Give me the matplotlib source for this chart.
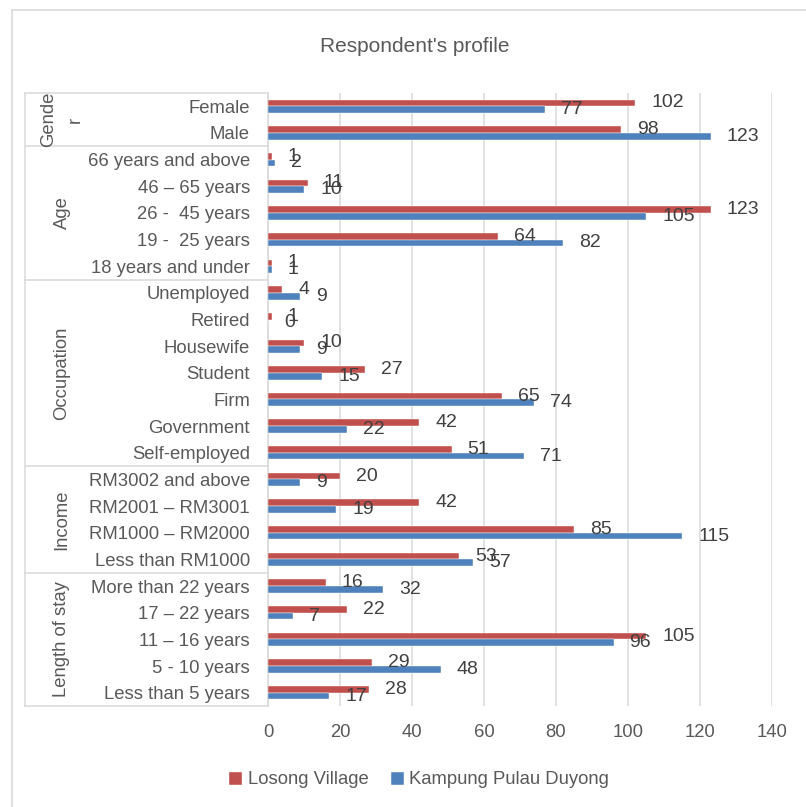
import matplotlib.pyplot as plt
from matplotlib.lines import Line2D
from matplotlib.transforms import blended_transform_factory

plt.rcParams['font.family'] = ['Liberation Sans Narrow', 'Liberation Sans', 'DejaVu Sans']

# data, top to bottom
categories = ['Female', 'Male',
              '66 years and above', '46 \u2013 65 years', '26 -  45 years', '19 -  25 years', '18 years and under',
              'Unemployed', 'Retired', 'Housewife', 'Student', 'Firm', 'Government', 'Self-employed',
              'RM3002 and above', 'RM2001 \u2013 RM3001', 'RM1000 \u2013 RM2000', 'Less than RM1000',
              'More than 22 years', '17 \u2013 22 years', '11 \u2013 16 years', '5 - 10 years', 'Less than 5 years']
losong = [102, 98, 1, 11, 123, 64, 1, 4, 1, 10, 27, 65, 42, 51, 20, 42, 85, 53, 16, 22, 105, 29, 28]
duyong = [77, 123, 2, 10, 105, 82, 1, 9, 0, 9, 15, 74, 22, 71, 9, 19, 115, 57, 32, 7, 96, 48, 17]
groups = ['Gende\nr', 'Age', 'Occupation', 'Income', 'Length of stay']
group_sizes = [2, 5, 7, 4, 5]

red = '#C0504D'
blue = '#4F81BD'
grid_c = '#D9D9D9'
txt = '#595959'
val_c = '#404040'

fig = plt.figure(figsize=(8.06, 8.07), dpi=100)
ax = fig.add_axes([268 / 806, 1 - 706 / 807, 504 / 806, 613 / 807])

n = len(categories)
pos = list(range(n))
h = 0.25
ax.barh([p - h / 2 for p in pos], losong, height=h, color=red, edgecolor='white', linewidth=0.3,
        label='Losong Village', zorder=3)
ax.barh([p + h / 2 for p in pos], duyong, height=h, color=blue, edgecolor='white', linewidth=0.3,
        label='Kampung Pulau Duyong', zorder=3)

ax.set_xlim(0, 140)
ax.set_ylim(n - 0.5, -0.5)
ax.set_xticks(range(0, 141, 20))
ax.set_yticks(pos)
ax.set_yticklabels(categories, fontsize=13.3, color=txt)
ax.tick_params(axis='y', length=0, pad=13)
ax.tick_params(axis='x', length=0, pad=13, labelsize=13.3, labelcolor=txt)
ax.grid(axis='x', color=grid_c, linewidth=1.1, zorder=0)
for s in ['top', 'right', 'bottom']:
    ax.spines[s].set_visible(False)
ax.spines['left'].set_color(grid_c)
ax.spines['left'].set_linewidth(1.1)

# value labels
px = 504 / 140.0
off = 16 / px
for i in range(n):
    ax.text(losong[i] + off, i - h / 2, str(losong[i]), va='center', ha='left', fontsize=14, color=val_c, zorder=4)
    ax.text(duyong[i] + off, i + h / 2, str(duyong[i]), va='center', ha='left', fontsize=14, color=val_c, zorder=4)

# left group table
tr = blended_transform_factory(ax.transAxes, ax.transData)
xl = (25 - 268) / 504
xg = (62 - 268) / 504
start = -0.5
for g, size in zip(groups, group_sizes):
    ax.plot([xl, 0], [start, start], transform=tr, color=grid_c, lw=1.1, clip_on=False)
    ax.text(xg, start + size / 2, g, transform=tr, rotation=90, ha='center', va='center',
            multialignment='center', linespacing=1.7, fontsize=13.3, color=txt)
    start += size
ax.plot([xl, 0], [start, start], transform=tr, color=grid_c, lw=1.1, clip_on=False)
ax.plot([xl, xl], [-0.5, n - 0.5], transform=tr, color=grid_c, lw=1.1, clip_on=False)

# chart border
fig.add_artist(Line2D([12 / 806, 12 / 806], [0, 1 - 10 / 807], color=grid_c, lw=1.2))
fig.add_artist(Line2D([12 / 806, 1], [1 - 10 / 807, 1 - 10 / 807], color=grid_c, lw=1.2))

fig.text(0.515, 1 - 46 / 807, "Respondent's profile", ha='center', va='center', fontsize=15, color=txt)
fig.legend(loc='center', bbox_to_anchor=(0.52, 1 - 780 / 807), ncol=2, frameon=False,
           fontsize=13.3, labelcolor=txt, handlelength=0.7, handleheight=0.7, handletextpad=0.3,
           columnspacing=1.2)

fig.savefig('out.png', dpi=100)
